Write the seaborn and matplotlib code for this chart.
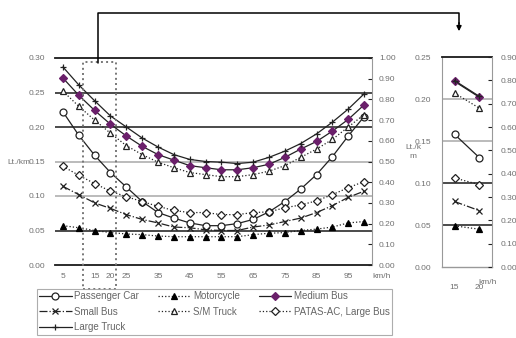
import matplotlib
matplotlib.use("Agg")
import matplotlib.pyplot as plt
import seaborn as sns
from matplotlib.patches import Rectangle, FancyArrowPatch
from matplotlib.lines import Line2D

sns.set_style("white")
plt.rcParams['font.family'] = ['Liberation Sans Narrow', 'Liberation Sans', 'DejaVu Sans']

# speeds (km/h) and fuel consumption (Lt./km) per vehicle type
speeds = [5, 10, 15, 20, 25, 30, 35, 40, 45, 50, 55, 60, 65, 70, 75, 80, 85, 90, 95, 100]
passenger = [0.222, 0.188, 0.159, 0.134, 0.113, 0.092, 0.076, 0.068, 0.061, 0.057,
             0.057, 0.060, 0.066, 0.077, 0.092, 0.110, 0.131, 0.157, 0.187, 0.215]
motorcycle = [0.057, 0.054, 0.050, 0.047, 0.045, 0.044, 0.042, 0.041, 0.041, 0.041,
              0.041, 0.041, 0.044, 0.046, 0.047, 0.050, 0.052, 0.055, 0.061, 0.063]
medium_bus = [0.271, 0.246, 0.224, 0.204, 0.187, 0.172, 0.160, 0.152, 0.144, 0.141,
              0.138, 0.138, 0.141, 0.146, 0.156, 0.168, 0.179, 0.194, 0.211, 0.232]
small_bus = [0.114, 0.102, 0.090, 0.082, 0.073, 0.066, 0.061, 0.055, 0.054, 0.051,
             0.050, 0.050, 0.055, 0.058, 0.063, 0.068, 0.076, 0.086, 0.098, 0.107]
sm_truck = [0.252, 0.230, 0.210, 0.191, 0.173, 0.160, 0.149, 0.141, 0.134, 0.131,
            0.128, 0.128, 0.131, 0.136, 0.144, 0.156, 0.168, 0.182, 0.200, 0.218]
patas = [0.143, 0.130, 0.118, 0.107, 0.099, 0.092, 0.085, 0.079, 0.076, 0.076,
         0.073, 0.073, 0.076, 0.077, 0.083, 0.087, 0.093, 0.102, 0.112, 0.121]
large_truck = [0.287, 0.261, 0.238, 0.216, 0.200, 0.184, 0.171, 0.160, 0.153, 0.150,
               0.149, 0.147, 0.149, 0.156, 0.165, 0.176, 0.190, 0.207, 0.226, 0.248]

# zoomed part (15-20 km/h)
inset_speeds = [15, 20]
inset_passenger = [0.158, 0.130]
inset_motorcycle = [0.049, 0.045]
inset_medium_bus = [0.221, 0.202]
inset_small_bus = [0.078, 0.067]
inset_sm_truck = [0.207, 0.189]
inset_patas = [0.106, 0.098]
inset_large_truck = [0.222, 0.203]

main_labels = ['5', '15', '20', '25', '35', '45', '55', '65', '75', '85', '95']
left_ticks = [0.00, 0.05, 0.10, 0.15, 0.20, 0.25, 0.30]
right_ticks = [0.0, 0.1, 0.2, 0.3, 0.4, 0.5, 0.6, 0.7, 0.8, 0.9, 1.0]

purple = '#6a1f6a'
lc = '#222222'
tc = '#707070'
dark_grid = '#1a1a1a'
light_grid = '#a8a8a8'

styles = {
    'Passenger Car': dict(marker='o', ls='-', mfc='white', mec=lc),
    'Motorcycle': dict(marker='^', ls=':', mfc='black', mec='black'),
    'Medium Bus': dict(marker='D', ls='-', mfc=purple, mec=purple, ms=3.8),
    'Small Bus': dict(marker='x', ls='-.', mfc=lc, mec=lc),
    'S/M Truck': dict(marker='^', ls=':', mfc='white', mec=lc),
    'PATAS-AC, Large Bus': dict(marker='D', ls=':', mfc='white', mec=lc, ms=3.8),
    'Large Truck': dict(marker='+', ls='-', mfc=lc, mec=lc),
}
main_series = {
    'Passenger Car': passenger, 'Motorcycle': motorcycle, 'Medium Bus': medium_bus,
    'Small Bus': small_bus, 'S/M Truck': sm_truck, 'PATAS-AC, Large Bus': patas,
    'Large Truck': large_truck,
}
inset_series = {
    'Passenger Car': inset_passenger, 'Motorcycle': inset_motorcycle,
    'Medium Bus': inset_medium_bus, 'Small Bus': inset_small_bus,
    'S/M Truck': inset_sm_truck, 'PATAS-AC, Large Bus': inset_patas,
    'Large Truck': inset_large_truck,
}

W, H = 516, 338
fig = plt.figure(figsize=(W / 100, H / 100), dpi=100)

def px(x0, y0, x1, y1):
    return [x0 / W, 1 - y1 / H, (x1 - x0) / W, (y1 - y0) / H]

ax = fig.add_axes(px(55, 58, 372, 265))
axi = fig.add_axes(px(442, 57, 492, 267))

def draw(a, xs, series):
    for name, vals in series.items():
        st = dict(styles[name])
        ms = st.pop('ms', 5)
        sns.lineplot(x=xs, y=vals, ax=a, color=lc, lw=0.9, ms=ms, mew=0.9,
                     label=name, legend=False, **st)

# main chart
for y, c in [(0.25, dark_grid), (0.20, dark_grid), (0.15, light_grid),
             (0.10, light_grid), (0.05, dark_grid)]:
    ax.axhline(y, color=c, lw=1.1, zorder=0)
draw(ax, speeds, main_series)
ax.set_xlim(2.5, 102.5)
ax.set_ylim(0, 0.30)
ax.set_yticks(left_ticks)
ax.set_yticklabels([f'{v:.2f}' for v in left_ticks])
ax.set_xticks([int(l) for l in main_labels])
ax.set_xticklabels(main_labels)
ax.set_xticks([s + 2.5 for s in speeds[:-1]], minor=True)
ax.tick_params(axis='x', which='major', length=0, pad=6, labelsize=6, labelcolor=tc)
ax.tick_params(axis='x', which='minor', length=3, direction='in', color=lc, width=0.8)
ax.tick_params(axis='y', length=0, pad=7, labelsize=6, labelcolor=tc)
for s in ['left', 'right']:
    ax.spines[s].set_visible(False)
ax.spines['top'].set_color(dark_grid)
ax.spines['top'].set_linewidth(1.3)
ax.spines['bottom'].set_color(dark_grid)
ax.spines['bottom'].set_linewidth(1.3)
ax.set_xlabel('')
ax.set_ylabel('')
ax.text(1.0, -0.055, 'km/h', transform=ax.transAxes, fontsize=6, color=tc, ha='left', va='center')
fig.text(7 / W, 1 - 162 / H, 'Lt./km', fontsize=6, color=tc, va='center')

axr = ax.twinx()
axr.set_ylim(0, 1.0)
axr.set_yticks(right_ticks)
axr.set_yticklabels([f'{v:.2f}' for v in right_ticks])
axr.tick_params(axis='y', length=3, direction='in', color=lc, pad=5, labelsize=6, labelcolor=tc)
for s in ['left', 'top', 'bottom']:
    axr.spines[s].set_visible(False)
axr.spines['right'].set_color('#999999')
axr.spines['right'].set_linewidth(0.8)

# dotted box marking the zoomed range
ax.add_patch(Rectangle((11.3, -0.035), 10.5, 0.329, fill=False, ls=':', lw=1.4,
                       edgecolor='#777777', clip_on=False, zorder=5))

# inset chart
for y, c in [(0.20, light_grid), (0.15, light_grid), (0.10, dark_grid), (0.05, dark_grid)]:
    axi.axhline(y, color=c, lw=1.1, zorder=0)
draw(axi, inset_speeds, inset_series)
axi.set_xlim(12.5, 22.5)
axi.set_ylim(0, 0.25)
axi.set_yticks([0.00, 0.05, 0.10, 0.15, 0.20, 0.25])
axi.set_yticklabels(['0.00', '0.05', '0.10', '0.15', '0.20', '0.25'])
axi.set_xticks(inset_speeds)
axi.set_xticklabels(['15', '20'])
axi.set_xticks([17.5], minor=True)
axi.tick_params(axis='x', which='major', length=0, pad=12, labelsize=6, labelcolor=tc)
axi.tick_params(axis='x', which='minor', length=3, direction='in', color=lc, width=0.8)
axi.tick_params(axis='y', length=0, pad=8, labelsize=6, labelcolor=tc)
axi.spines['left'].set_color('#999999')
axi.spines['left'].set_linewidth(0.8)
axi.spines['right'].set_visible(False)
axi.spines['top'].set_color(dark_grid)
axi.spines['top'].set_linewidth(1.3)
axi.spines['bottom'].set_color('#999999')
axi.spines['bottom'].set_linewidth(1.0)
axi.set_xlabel('')
axi.set_ylabel('')
axi.text(0.72, -0.075, 'km/h', transform=axi.transAxes, fontsize=6, color=tc, ha='left', va='center')
fig.text(413 / W, 1 - 152 / H, 'Lt./k\nm', fontsize=6, color=tc, ha='center', va='center',
         linespacing=1.3)

axir = axi.twinx()
axir.set_ylim(0, 0.90)
axir.set_yticks([round(0.1 * i, 1) for i in range(10)])
axir.set_yticklabels([f'{0.1 * i:.2f}' for i in range(10)])
axir.tick_params(axis='y', length=3, direction='in', color=lc, pad=6, labelsize=6, labelcolor=tc)
for s in ['left', 'top', 'bottom']:
    axir.spines[s].set_visible(False)
axir.spines['right'].set_color('#999999')
axir.spines['right'].set_linewidth(0.8)

# connector arrow from the box to the inset
pts = [(98, 63), (98, 13), (459, 13), (459, 24)]
fig.add_artist(Line2D([p[0] / W for p in pts], [1 - p[1] / H for p in pts],
                      color='black', lw=1.1))
fig.add_artist(FancyArrowPatch(
    (459 / W, 1 - 20 / H), (459 / W, 1 - 34 / H), transform=fig.transFigure,
    arrowstyle='-|>', mutation_scale=7, color='black', lw=1.1))

# legend (box runs off the bottom edge as in the original)
handles, labels = ax.get_legend_handles_labels()
order = ['Passenger Car', 'Small Bus', 'Large Truck', 'Motorcycle', 'S/M Truck',
         'Medium Bus', 'PATAS-AC, Large Bus']
hmap = dict(zip(labels, handles))
leg_top = 1 - 289 / H
leg = fig.legend([hmap[o] for o in order], order, ncol=3, loc='upper left',
                 bbox_to_anchor=(37 / W, leg_top - 0.2, (392 - 37) / W, 0.2),
                 mode='expand', frameon=True, fontsize=7, handlelength=3.3,
                 handletextpad=0.3, borderpad=0.25, labelspacing=0.55,
                 borderaxespad=0, fancybox=False)
leg.get_frame().set_edgecolor('#999999')
leg.get_frame().set_linewidth(0.8)
for t in leg.get_texts():
    t.set_color('#666666')

fig.savefig('out.png', dpi=100)
